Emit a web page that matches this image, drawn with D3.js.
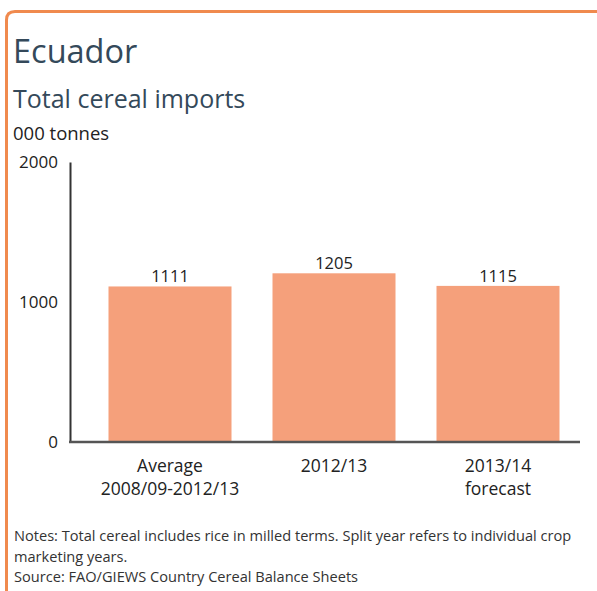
<!DOCTYPE html>
<html><head><meta charset="utf-8">
<script src="https://cdn.jsdelivr.net/npm/d3@7"></script>
<style>
html,body{margin:0;padding:0;background:#fff;}
svg{display:block;font-family:"Open Sans",sans-serif;}
</style></head>
<body>
<svg id="chart" width="597" height="591"></svg>
<script>
const categories = [["Average","2008/09-2012/13"],["2012/13"],["2013/14","forecast"]];
const values = [1111, 1205, 1115];
const yTicks = [0, 1000, 2000];
const title = "Ecuador";
const subtitle = "Total cereal imports";
const unit = "000 tonnes";
const notes = ["Notes: Total cereal includes rice in milled terms. Split year refers to individual crop",
               "marketing years.",
               "Source: FAO/GIEWS Country Cereal Balance Sheets"];

const svg = d3.select("#chart");
const orange = "#f08a4e";

// frame: top and left border with rounded corner
svg.append("path")
  .attr("d", "M6.5,591 L6.5,20 Q6.5,11.5 15,11.5 L597,11.5")
  .attr("fill","none").attr("stroke", orange).attr("stroke-width",3);

svg.append("text").attr("x",13).attr("y",63).attr("fill","#34495a")
  .attr("font-size",32.5).text(title);
svg.append("text").attr("x",13).attr("y",108).attr("fill","#34495a")
  .attr("font-size",25).text(subtitle);
svg.append("text").attr("x",13).attr("y",140).attr("fill","#222")
  .attr("font-size",18.5).text(unit);

const y = d3.scaleLinear().domain([0,2000]).range([442,162]);
const x = d3.scaleBand().domain(categories.map((c,i)=>i)).range([88,580]).paddingInner(0.25).paddingOuter(0.125);

// bars
svg.selectAll("rect.bar").data(values).join("rect").attr("class","bar")
  .attr("x",(d,i)=>x(i)).attr("width",x.bandwidth())
  .attr("y",d=>y(d)).attr("height",d=>y(0)-y(d))
  .attr("fill","#f5a07b");

svg.selectAll("text.val").data(values).join("text").attr("class","val")
  .attr("x",(d,i)=>x(i)+x.bandwidth()/2).attr("y",d=>y(d)-4)
  .attr("text-anchor","middle").attr("font-size",16.5).attr("fill","#222")
  .text(d=>d);

// y axis
const yAxis = svg.append("g").attr("transform","translate(70,0)")
  .call(d3.axisLeft(y).tickValues(yTicks).tickFormat(d3.format("d")).tickSize(0).tickPadding(12));
yAxis.select(".domain").attr("stroke","#333").attr("stroke-width",2);
yAxis.selectAll("text").attr("font-size",17).attr("fill","#222").attr("font-family","Open Sans");

// x axis line
svg.append("line").attr("x1",69).attr("x2",580).attr("y1",442).attr("y2",442)
  .attr("stroke","#555").attr("stroke-width",2.5);

// x labels
const xl = svg.selectAll("text.xl").data(categories).join("text").attr("class","xl")
  .attr("text-anchor","middle").attr("font-size",17.5).attr("fill","#222")
  .attr("x",(d,i)=>x(i)+x.bandwidth()/2).attr("y",472);
xl.selectAll("tspan").data(d=>d).join("tspan")
  .attr("x",function(){return this.parentNode.getAttribute("x");})
  .attr("dy",(d,j)=>j===0?0:23).text(d=>d);

svg.selectAll("text.note").data(notes).join("text").attr("class","note")
  .attr("x",14).attr("y",(d,i)=>541+i*20.5).attr("font-size",14.6).attr("fill","#333")
  .text(d=>d);
</script>
</body></html>
